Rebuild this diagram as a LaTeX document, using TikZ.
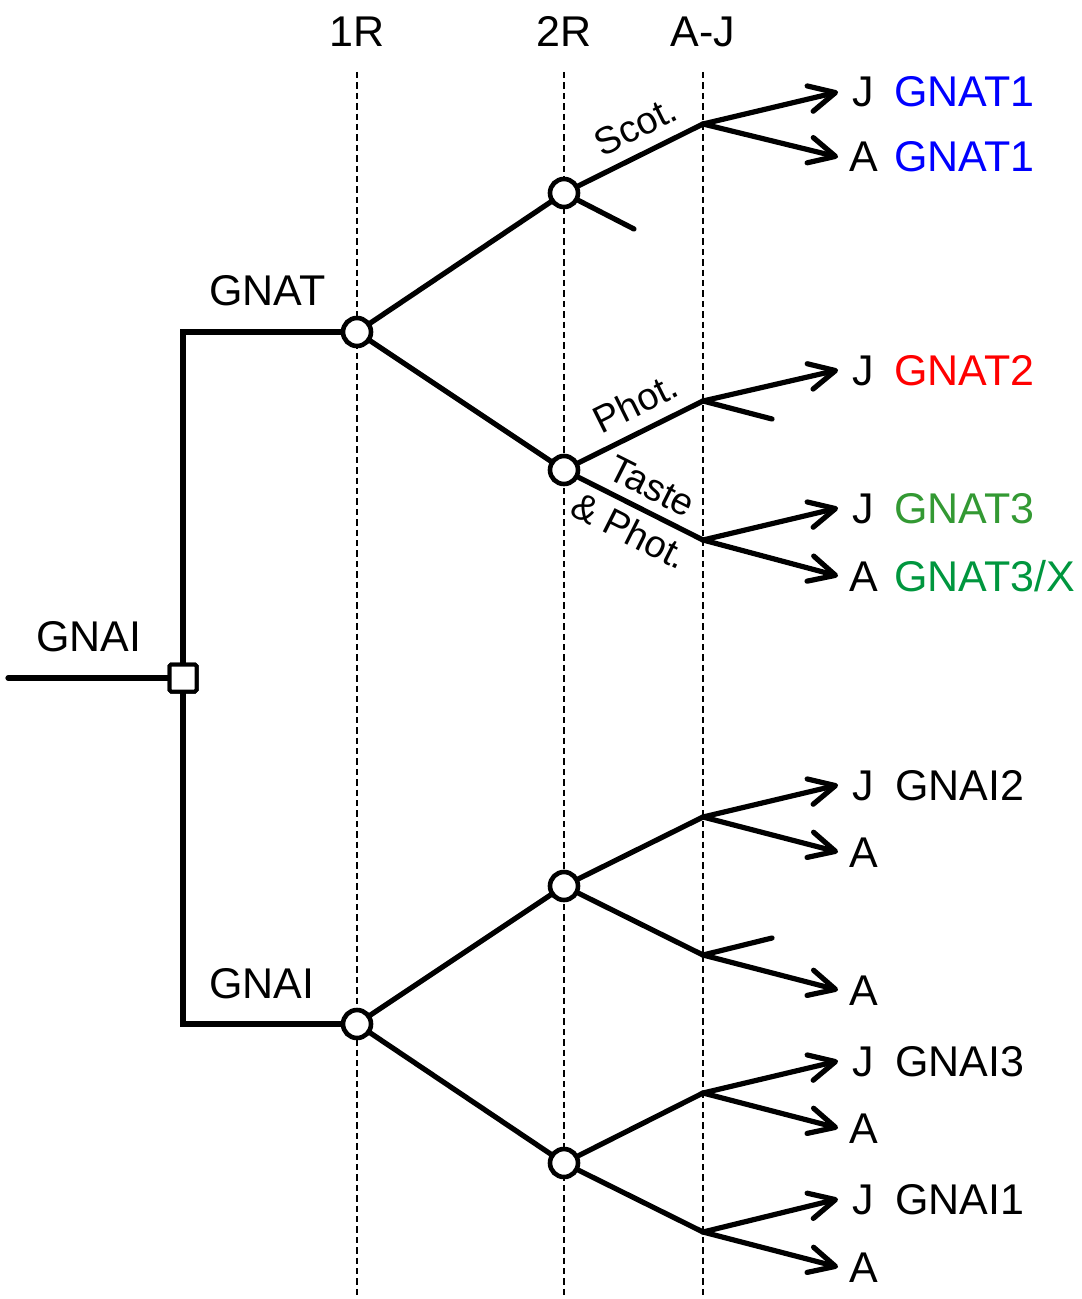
\documentclass[tikz,border=0pt]{standalone}
\usepackage{fontspec}
\setmainfont{Liberation Sans}
\usetikzlibrary{arrows.meta}
\definecolor{gblue}{RGB}{0,0,255}
\definecolor{gred}{RGB}{255,0,0}
\definecolor{ggreen}{RGB}{51,153,51}
\definecolor{gdgreen}{RGB}{0,150,62}
\begin{document}
\begin{tikzpicture}[x=0.5pt,y=-0.5pt,
  branch/.style={line width=2.6pt, line cap=round, line join=round},
  arr/.style={branch, -{Straight Barb[length=13pt,width=13pt,round]}},
  guide/.style={line width=0.8pt, dash pattern=on 3.2pt off 2pt},
  knot/.style={circle, draw, fill=white, line width=2.3pt, minimum size=14pt, inner sep=0pt},
  box/.style={rectangle, draw, fill=white, line width=2pt, rounded corners=0.8pt, minimum size=13.5pt, inner sep=0pt},
  lab/.style={font=\fontsize{21.5}{26}\selectfont, inner sep=0pt},
  slab/.style={font=\fontsize{19}{25}\selectfont, inner sep=0pt, align=center},
]
\useasboundingbox (0,0) rectangle (1081,1299);

% stage guides
\node[lab, anchor=base] (h1) at (357,47) {1R};
\node[lab, anchor=base] (h2) at (564,47) {2R};
\node[lab, anchor=base] (h3) at (703,47) {A-J};
\coordinate (g1t) at (357,72);  \coordinate (g1b) at (357,1299);
\coordinate (g2t) at (564,72);  \coordinate (g2b) at (564,1299);
\coordinate (g3t) at (703,72);  \coordinate (g3b) at (703,1299);
\draw[guide] (g1t) -- (g1b);
\draw[guide] (g2t) -- (g2b);
\draw[guide] (g3t) -- (g3b);

% duplication nodes
\node[box] (root) at (183,678) {};
\node[knot] (r1t) at (357,332) {};
\node[knot] (r1b) at (357,1024) {};
\node[knot] (r2a) at (564,193) {};
\node[knot] (r2b) at (564,470) {};
\node[knot] (r2c) at (564,886) {};
\node[knot] (r2d) at (564,1163) {};

% A-J split points
\coordinate (ja) at (703,124);
\coordinate (jb) at (703,401);
\coordinate (jc) at (703,540);
\coordinate (jd) at (703,817);
\coordinate (je) at (703,955);
\coordinate (jf) at (703,1093);
\coordinate (jg) at (703,1232);

% lost branches
\coordinate (sa) at (634,229);
\coordinate (sb) at (772,419);
\coordinate (se) at (772,938);

% stem
\coordinate (in) at (8,678);
\coordinate (topc) at (183,332);
\coordinate (botc) at (183,1024);
\draw[branch] (in) -- (root);
\draw[branch, line cap=butt, line join=miter] (r1t) -- (topc) -- (botc) -- (r1b);
\node[box] at (root) {};
\node[lab, anchor=base] (lroot) at (89,651) {GNAI};
\node[lab, anchor=base west] (lgnat) at (209,306) {GNAT};
\node[lab, anchor=base west] (lgnai) at (209,998) {GNAI};

% 1R to 2R
\draw[branch] (r1t) -- (r2a);
\draw[branch] (r1t) -- (r2b);
\draw[branch] (r1b) -- (r2c);
\draw[branch] (r1b) -- (r2d);

% 2R to A-J
\draw[branch] (r2a) -- node[slab, sloped, above=6pt, pos=0.56] (scot) {Scot.} (ja);
\draw[branch] (r2a) -- (sa);
\draw[branch] (r2b) -- node[slab, sloped, above=6pt, pos=0.56] (phot) {Phot.} (jb);
\draw[branch] (r2b) -- node[slab, sloped, pos=0.5] (taste) {Taste\\\& Phot.} (jc);
\draw[branch] (r2c) -- (jd);
\draw[branch] (r2c) -- (je);
\draw[branch] (r2d) -- (jf);
\draw[branch] (r2d) -- (jg);
\draw[branch] (jb) -- (sb);
\draw[branch] (je) -- (se);

% leaf tips
\coordinate (t1) at (838,92);
\coordinate (t2) at (838,157);
\coordinate (t3) at (838,370);
\coordinate (t4) at (838,508);
\coordinate (t5) at (838,576);
\coordinate (t6) at (838,785);
\coordinate (t7) at (838,852);
\coordinate (t8) at (838,990);
\coordinate (t9) at (838,1061);
\coordinate (t10) at (838,1128);
\coordinate (t11) at (838,1199);
\coordinate (t12) at (838,1267);
\draw[arr] (ja) -- (t1);
\draw[arr] (ja) -- (t2);
\draw[arr] (jb) -- (t3);
\draw[arr] (jc) -- (t4);
\draw[arr] (jc) -- (t5);
\draw[arr] (jd) -- (t6);
\draw[arr] (jd) -- (t7);
\draw[arr] (je) -- (t8);
\draw[arr] (jf) -- (t9);
\draw[arr] (jf) -- (t10);
\draw[arr] (jg) -- (t11);
\draw[arr] (jg) -- (t12);

% leaf labels
\node[lab, anchor=base west] (k1) at (852,107) {J};
\node[lab, anchor=base west] (k2) at (849,172) {A};
\node[lab, anchor=base west] (k3) at (852,385) {J};
\node[lab, anchor=base west] (k4) at (852,523) {J};
\node[lab, anchor=base west] (k5) at (849,591) {A};
\node[lab, anchor=base west] (k6) at (852,800) {J};
\node[lab, anchor=base west] (k7) at (849,867) {A};
\node[lab, anchor=base west] (k8) at (849,1005) {A};
\node[lab, anchor=base west] (k9) at (852,1076) {J};
\node[lab, anchor=base west] (k10) at (849,1143) {A};
\node[lab, anchor=base west] (k11) at (852,1214) {J};
\node[lab, anchor=base west] (k12) at (849,1282) {A};

\node[lab, anchor=base west, text=gblue] (n1) at (894,107) {GNAT1};
\node[lab, anchor=base west, text=gblue] (n2) at (894,172) {GNAT1};
\node[lab, anchor=base west, text=gred] (n3) at (894,385) {GNAT2};
\node[lab, anchor=base west, text=ggreen] (n4) at (894,523) {GNAT3};
\node[lab, anchor=base west, text=gdgreen] (n5) at (894,591) {GNAT3/X};
\node[lab, anchor=base west] (n6) at (895,800) {GNAI2};
\node[lab, anchor=base west] (n9) at (895,1076) {GNAI3};
\node[lab, anchor=base west] (n11) at (895,1214) {GNAI1};
\end{tikzpicture}
\end{document}
